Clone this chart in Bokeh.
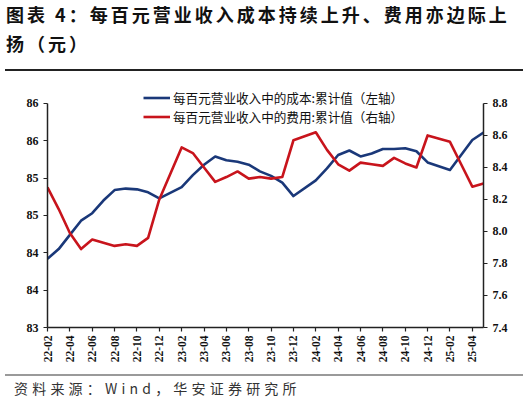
import math
from bokeh.plotting import figure
from bokeh.layouts import column
from bokeh.models import (Range1d, LinearAxis, FixedTicker, PrintfTickFormatter,
                          Legend, LegendItem, ColumnDataSource, Div)
from bokeh.embed import file_html
from bokeh.resources import INLINE

# month labels (Jan values are not published, so they are absent)
months = ["22-02", "22-03", "22-04", "22-05", "22-06", "22-07", "22-08", "22-09", "22-10", "22-11", "22-12",
          "23-02", "23-03", "23-04", "23-05", "23-06", "23-07", "23-08", "23-09", "23-10", "23-11", "23-12",
          "24-02", "24-03", "24-04", "24-05", "24-06", "24-07", "24-08", "24-09", "24-10", "24-11", "24-12",
          "25-02", "25-03", "25-04", "25-05"]

# cost per 100 yuan of revenue, cumulative (left axis)
cost = [83.92, 84.05, 84.24, 84.43, 84.53, 84.70, 84.84, 84.86, 84.85, 84.81, 84.73,
        84.88, 85.04, 85.18, 85.29, 85.24, 85.22, 85.18, 85.09, 85.03, 84.94, 84.76,
        84.97, 85.13, 85.31, 85.37, 85.29, 85.33, 85.39, 85.39, 85.40, 85.36, 85.21,
        85.11, 85.31, 85.51, 85.61]

# expenses per 100 yuan of revenue, cumulative (right axis)
expense = [8.275, 8.14, 7.99, 7.89, 7.95, 7.93, 7.91, 7.92, 7.91, 7.96, 8.20,
           8.525, 8.49, 8.40, 8.31, 8.34, 8.375, 8.33, 8.34, 8.33, 8.34, 8.57,
           8.62, 8.51, 8.42, 8.38, 8.43, 8.42, 8.41, 8.46, 8.425, 8.40, 8.60,
           8.56, 8.42, 8.28, 8.30]

tick_labels = ["22-02", "22-04", "22-06", "22-08", "22-10", "22-12", "23-02", "23-04", "23-06", "23-08",
               "23-10", "23-12", "24-02", "24-04", "24-06", "24-08", "24-10", "24-12", "25-02", "25-04"]

title_line1 = "图表 4：每百元营业收入成本持续上升、费用亦边际上"
title_line2 = "扬（元）"
source_text = "资料来源：Wind，华安证券研究所"
cost_name = "每百元营业收入中的成本:累计值（左轴）"
expense_name = "每百元营业收入中的费用:累计值（右轴）"


def month_index(s):
    yy, mm = s.split("-")
    return (int(yy) - 22) * 12 + int(mm) - 2


BLUE = "#1A3879"
RED = "#C8141C"
SERIF = "Liberation Serif"
CJK = "Noto Sans CJK SC"

src = ColumnDataSource(dict(x=[month_index(m) for m in months], cost=cost, expense=expense))

# a little head room above 86 / 8.8 so the legend sits inside the frame;
# the axes themselves stop at 86 / 8.8 via bounds
p = figure(width=512, height=306,
           min_border_left=47, min_border_right=29, min_border_top=24, min_border_bottom=43,
           x_range=Range1d(0, 39), y_range=Range1d(83, 86.2),
           output_backend="svg", toolbar_location=None, margin=0)
p.extra_y_ranges = {"r": Range1d(7.4, 8.8 + 0.2 * 1.4 / 3)}
p.outline_line_color = None
p.border_fill_color = None
p.background_fill_color = None
p.xgrid.visible = False
p.ygrid.visible = False

l1 = p.line("x", "cost", source=src, color=BLUE, line_width=2.6, line_join="round")
l2 = p.line("x", "expense", source=src, color=RED, line_width=2.6, line_join="round", y_range_name="r")

ra = LinearAxis(y_range_name="r", bounds=(7.4, 8.8))
p.add_layout(ra, "right")

p.xaxis.ticker = FixedTicker(ticks=[month_index(t) for t in tick_labels])
p.xaxis.major_label_overrides = {month_index(t): t for t in tick_labels}
p.xaxis.major_label_orientation = math.pi / 2
p.yaxis[0].bounds = (83, 86)
p.yaxis[0].ticker = FixedTicker(ticks=[83 + 0.5 * i for i in range(7)])
p.yaxis[0].formatter = PrintfTickFormatter(format="%.0f")
ra.ticker = FixedTicker(ticks=[round(7.4 + 0.2 * i, 1) for i in range(8)])
ra.formatter = PrintfTickFormatter(format="%.1f")

for ax in p.axis:
    ax.axis_line_color = "#222222"
    ax.axis_line_width = 1.5
    ax.major_tick_line_color = "#222222"
    ax.major_tick_line_width = 1.2
    ax.major_tick_out = 4
    ax.major_tick_in = 0
    ax.minor_tick_line_color = None
    ax.major_label_text_font = SERIF
    ax.major_label_text_font_style = "bold"
    ax.major_label_text_font_size = "12px"
    ax.major_label_text_color = "#111111"
    ax.major_label_standoff = 5
p.xaxis.major_label_text_font_size = "11.5px"
p.xaxis.major_label_standoff = 4

legend = Legend(items=[LegendItem(label=cost_name, renderers=[l1]),
                       LegendItem(label=expense_name, renderers=[l2])],
                location=(96, 201), orientation="vertical",
                glyph_width=27, glyph_height=19, label_height=19, label_standoff=3,
                spacing=0, padding=0, margin=0,
                label_text_font=CJK, label_text_font_size="12.6px", label_text_color="#111111",
                border_line_color=None, background_fill_alpha=0)
p.add_layout(legend, "center")

# title block: two lines placed absolutely inside the div
title_font = (f"font-family:'{CJK}';font-weight:bold;font-size:18px;letter-spacing:3px;"
              "color:#111;white-space:nowrap;line-height:20px")
title = Div(width=524, height=60, margin=0, text=(
    '<div style="position:relative;width:524px;height:60px">'
    f'<div style="position:absolute;left:6px;top:4px;{title_font}">{title_line1}</div>'
    f'<div style="position:absolute;left:6px;top:33px;{title_font}">{title_line2}</div>'
    '</div>'))

# dark rule under the title
rule = Div(width=524, height=4, margin=0, text=(
    '<div style="position:relative;width:524px;height:4px">'
    '<div style="position:absolute;left:5px;top:1px;width:518px;height:2px;background:#222222"></div>'
    '</div>'))

source = Div(width=524, height=28, margin=0, text=(
    '<div style="position:relative;width:524px;height:28px">'
    '<div style="position:absolute;left:5px;top:4px;width:518px;height:2px;background:#9a9a9a"></div>'
    f"<div style=\"position:absolute;left:14px;top:8px;font-family:'{CJK}';font-size:14px;"
    f'letter-spacing:4.2px;color:#333;white-space:nowrap;line-height:20px">{source_text}</div>'
    '</div>'))

open("out.html", "w").write(file_html(column(title, rule, p, source, spacing=0), INLINE))
